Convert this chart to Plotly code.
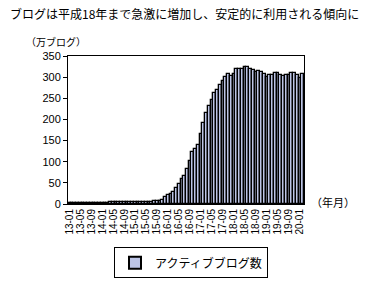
import plotly.graph_objects as go

# Months from 13-01 (H13/2001-01) to 20-02 (H20/2008-02)
months = [f"{y}-{m:02d}" for y in range(13, 21) for m in range(1, 13)][:86]

active_blogs = [
    2, 2, 2, 2, 2, 3, 3, 3, 3, 3, 3, 3,          # 13
    3, 3, 3, 4, 4, 4, 4, 4, 4, 4, 4, 4,          # 14
    4, 4, 5, 5, 5, 5, 5, 6, 7, 8, 10, 16,        # 15
    21, 23, 29, 38, 47, 59, 66, 83, 102, 122, 131, 139,   # 16
    166, 191, 215, 231, 246, 262, 269, 282, 292, 300, 307, 303,  # 17
    307, 320, 320, 320, 325, 325, 320, 316, 313, 314, 311, 308,  # 18
    300, 306, 305, 309, 309, 305, 303, 305, 306, 310, 309, 305,  # 19
    299, 307,                                    # 20
]

tick_labels = months[::4]

title_text = "ブログは平成18年まで急激に増加し、安定的に利用される傾向に"
y_unit = "（万ブログ）"
x_unit = "（年月）"
series_name = "アクティブブログ数"

jp = "Noto Sans CJK JP"
num = "Liberation Sans, Arial"

fig = go.Figure()
fig.add_trace(go.Bar(
    x=months, y=active_blogs, name=series_name,
    marker=dict(color="#bcc4e6", line=dict(color="black", width=1.3)),
    showlegend=True,
))

fig.update_layout(
    width=369, height=290,
    margin=dict(l=68, r=65, t=56, b=77),
    paper_bgcolor="white", plot_bgcolor="white",
    bargap=0,
    font=dict(family=jp, color="black", size=11),
    title=dict(text=title_text, xref="container", x=10/369, xanchor="left",
               y=1 - 15/290, yanchor="middle",
               font=dict(family=jp, size=12, color="black")),
    showlegend=True,
    legend=dict(orientation="h", x=(114-68)/236, xanchor="left",
                y=(213-259)/157, yanchor="top",
                bordercolor="black", borderwidth=1, bgcolor="white",
                font=dict(family=jp, size=12, color="black"),
                itemsizing="constant", itemwidth=30),
    xaxis=dict(type="category", tickmode="array", tickvals=tick_labels,
               ticktext=tick_labels, tickangle=-90,
               tickfont=dict(family=num, size=10, color="black"),
               showline=True, linecolor="black", linewidth=1, mirror=True,
               ticks="", showgrid=False),
    yaxis=dict(range=[0, 350], dtick=50, tickmode="linear", tick0=0,
               tickfont=dict(family=num, size=11, color="black"),
               showline=True, linecolor="black", linewidth=1, mirror=True,
               ticks="outside", ticklen=4, tickcolor="black",
               showgrid=False, zeroline=False),
    annotations=[
        dict(text=y_unit, xref="paper", yref="paper", x=(24-68)/236, y=(213-41)/157,
             xanchor="left", yanchor="middle", showarrow=False,
             font=dict(family=jp, size=10, color="black")),
        dict(text=x_unit, xref="paper", yref="paper", x=(309-68)/236, y=(213-211)/157,
             xanchor="left", yanchor="middle", showarrow=False,
             font=dict(family=jp, size=11, color="black")),
    ],
)

fig.write_html("out.html")
